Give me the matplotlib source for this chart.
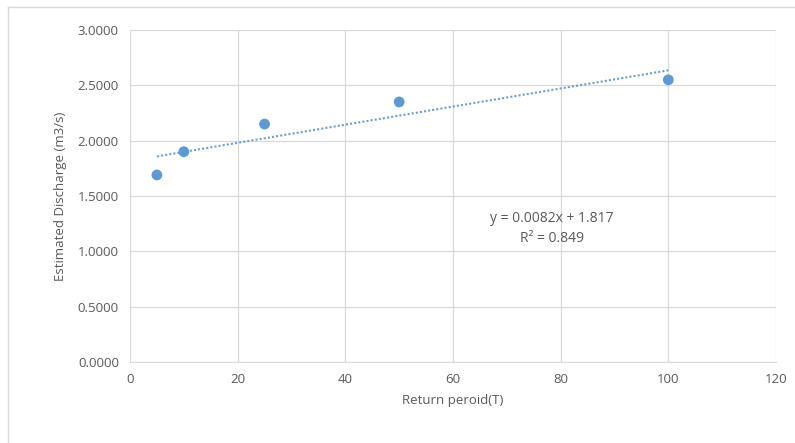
import matplotlib.pyplot as plt
import numpy as np
from matplotlib.lines import Line2D

# Return period vs estimated discharge
return_period = [5, 10, 25, 50, 100]
discharge = [1.69, 1.90, 2.15, 2.35, 2.55]
eq_text = 'y = 0.0082x + 1.817\nR² = 0.849'

plt.rcParams['font.family'] = ['Open Sans', 'DejaVu Sans']
grey = '#595959'
grid_c = '#d9d9d9'

fig = plt.figure(figsize=(7.95, 4.43), dpi=100)
ax = fig.add_axes([130 / 795, 1 - 362 / 443, 646 / 795, 332 / 443])

# chart-area border (only top and left visible)
fig.add_artist(Line2D([8 / 795, 1], [1 - 7 / 443] * 2, transform=fig.transFigure, color=grid_c, lw=1))
fig.add_artist(Line2D([8 / 795] * 2, [0, 1 - 7 / 443], transform=fig.transFigure, color=grid_c, lw=1))

# linear trendline
coef = np.polyfit(return_period, discharge, 1)
xt = np.array([min(return_period), max(return_period)])
ax.plot(xt, np.polyval(coef, xt), linestyle=(0, (1, 1)), color='#6a9fd0', lw=1.5, zorder=2)

ax.scatter(return_period, discharge, s=60, color='#5b9bd5', edgecolor='none', zorder=3)

ax.text(78.4, 1.21, eq_text, ha='center', va='center', fontsize=10, color=grey, linespacing=1.45)

ax.set_xlim(0, 120)
ax.set_ylim(0, 3)
ax.set_xticks(np.arange(0, 121, 20))
ax.set_yticks(np.arange(0, 3.01, 0.5))
ax.set_yticklabels([f'{v:.4f}' for v in np.arange(0, 3.01, 0.5)])
ax.grid(True, color=grid_c, lw=0.9)
ax.set_axisbelow(True)
for s in ax.spines.values():
    s.set_visible(False)
ax.spines['bottom'].set_visible(True)
ax.spines['bottom'].set_color(grid_c)
ax.tick_params(length=0, colors=grey, labelsize=9.5, pad=8)

ax.set_xlabel('Return peroid(T)', color=grey, fontsize=9.5, labelpad=6)
ax.set_ylabel('Estimated Discharge (m3/s)', color=grey, fontsize=9.5, labelpad=8)

plt.savefig('out.png', dpi=100)
